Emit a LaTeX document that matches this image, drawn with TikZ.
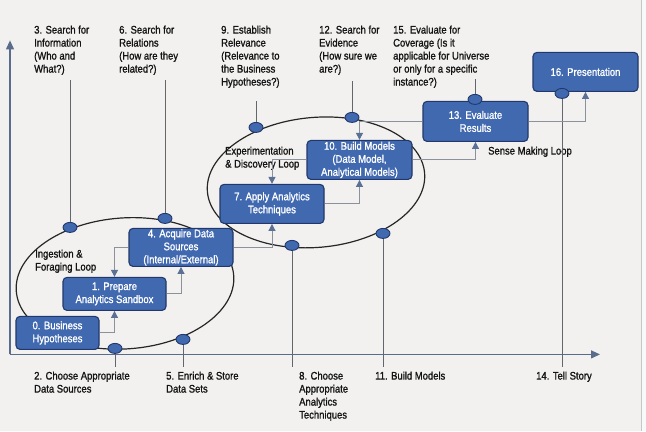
\documentclass[tikz,border=0pt]{standalone}
\usepackage{fontspec}
\setmainfont[FakeStretch=0.86,FakeBold=1.2]{Liberation Sans}
\usetikzlibrary{arrows.meta,shapes.geometric,calc}
\definecolor{bg}{HTML}{F2F1EF}
\definecolor{boxfill}{HTML}{4169B0}
\definecolor{boxline}{HTML}{22386A}
\definecolor{axisc}{HTML}{5A6C8C}
\definecolor{connc}{HTML}{8C929C}
\definecolor{tipc}{HTML}{5B7095}
\definecolor{labc}{HTML}{141414}
\begin{document}
\begin{tikzpicture}[x=1pt,y=-1pt,
 stagebox/.style={draw=boxline, line width=1.1pt, fill=boxfill, rounded corners=4pt, text=white, align=center, font=\fontsize{11}{13}\selectfont, inner sep=0pt},
 dot/.style={ellipse, draw=boxline, line width=0.9pt, fill=boxfill, minimum width=14pt, minimum height=10pt, inner sep=0pt},
 lbl/.style={anchor=north west, align=left, inner sep=0pt, text=labc, font=\fontsize{11}{13}\selectfont},
 conn/.style={draw=connc, line width=1pt, -{Triangle[length=7pt,width=7pt,color=tipc]}},
 stem/.style={draw=connc!70!black, line width=1pt},
 loopline/.style={draw=black!85, line width=1.2pt},
 axis/.style={draw=axisc, line width=1.2pt, -{Triangle[length=9pt,width=8pt]}}]

% background
\fill[bg] (0,0) rectangle (646,431);
\fill[white!60!bg] (641,0) rectangle (646,431);
\draw[black!22, line width=0.8pt] (641,0) -- (641,431);
\useasboundingbox (0,0) rectangle (646,431);

% loops
\draw[loopline, rotate around={4:(125,283)}] (125,283) ellipse [x radius=109, y radius=65.5];
\draw[loopline, rotate around={5:(316,182)}] (316,182) ellipse [x radius=109, y radius=65];

% axes
\coordinate (O) at (10,354);
\coordinate (ytop) at (10,40);
\coordinate (xend) at (600,354);
\draw[axis] (O) -- (ytop);
\draw[axis] (O) -- (xend);

% labels
\node[lbl] (l3) at (34,25) {3. Search for\\Information\\(Who and\\What?)};
\node[lbl] (l6) at (119,25) {6. Search for\\Relations\\(How are they\\related?)};
\node[lbl] (l9) at (221,25) {9. Establish\\Relevance\\(Relevance to\\the Business\\Hypotheses?)};
\node[lbl] (l12) at (319,25) {12. Search for\\Evidence\\(How sure we\\are?)};
\node[lbl] (l15) at (393,25) {15. Evaluate for\\Coverage (Is it\\applicable for Universe\\or only for a specific\\instance?)};
\node[lbl] (l2) at (34,371) {2. Choose Appropriate\\Data Sources};
\node[lbl] (l5) at (166,371) {5. Enrich \& Store\\Data Sets};
\node[lbl] (l8) at (299,371) {8. Choose\\Appropriate\\Analytics\\Techniques};
\node[lbl] (l11) at (375,371) {11. Build Models};
\node[lbl] (l14) at (536,371) {14. Tell Story};
\node[lbl] (ing) at (35,249) {Ingestion \&\\Foraging Loop};
\node[lbl] (exp) at (225,146) {Experimentation\\\& Discovery Loop};
\node[lbl] (sense) at (488,146) {Sense Making Loop};

% boxes
\node[stagebox, minimum width=83pt, minimum height=33pt] (b0) at (57.5,332.5) {0. Business\\Hypotheses};
\node[stagebox, minimum width=103pt, minimum height=33pt] (b1) at (114.5,293.5) {1. Prepare\\Analytics Sandbox};
\node[stagebox, minimum width=104pt, minimum height=38pt] (b4) at (181,247) {4. Acquire Data\\Sources\\(Internal/External)};
\node[stagebox, minimum width=104pt, minimum height=39pt] (b7) at (272,203.5) {7. Apply Analytics\\Techniques};
\node[stagebox, minimum width=105pt, minimum height=39pt] (b10) at (359.5,159.5) {10. Build Models\\(Data Model,\\Analytical Models)};
\node[stagebox, minimum width=105pt, minimum height=40pt] (b13) at (475.5,121) {13. Evaluate\\Results};
\node[stagebox, minimum width=105pt, minimum height=39pt] (b16) at (585.5,71.5) {16. Presentation};

% dots
\node[dot] (d3) at (70,227) {};
\node[dot] (d6) at (165,218) {};
\node[dot] (d2) at (115,348) {};
\node[dot] (d5) at (183,339) {};
\node[dot] (d9) at (256,127) {};
\node[dot] (d12) at (352,117) {};
\node[dot] (d8) at (292,245) {};
\node[dot] (d11) at (383,233) {};
\node[dot] (d15) at (475,99) {};
\node[dot] (d16) at (562,93) {};

% stems
\draw[stem] ($(l3.south -| d3)+(0,5)$) -- (d3);
\draw[stem] ($(l6.south -| d6)+(0,5)$) -- (d6);
\draw[stem] ($(l9.south -| d9)+(0,13)$) -- (d9);
\draw[stem] ($(l12.south -| d12)+(0,6)$) -- (d12);
\draw[stem] ($(l15.south -| d15)+(0,-9)$) -- (d15);
\draw[stem] (d2) -- ($(d2 |- l2.north)+(0,-4)$);
\draw[stem] (d5) -- ($(d5 |- l5.north)+(0,-4)$);
\draw[stem] (d8) -- ($(d8 |- l8.north)+(0,-4)$);
\draw[stem] (d11) -- ($(d11 |- l11.north)+(0,-4)$);
\draw[stem] (d16) -- ($(d16 |- l14.north)+(0,-4)$);

% connectors
\draw[conn] (b0.east) -| (b1.south);
\draw[conn] (b1.east) -| (b4.south);
\draw[conn] (b4.west) -| (b1.north);
\draw[conn] (b4.east) -| (b7.south);
\draw[conn] (b10.west) -| (b7.north);
\draw[conn] (b7.east) -| (b10.south);
\draw[conn] (b10.east) -| (b13.south);
\draw[conn] (b13.east) -| (b16.south);
\draw[conn] (b13.west) -| (b10.north);
\end{tikzpicture}
\end{document}
